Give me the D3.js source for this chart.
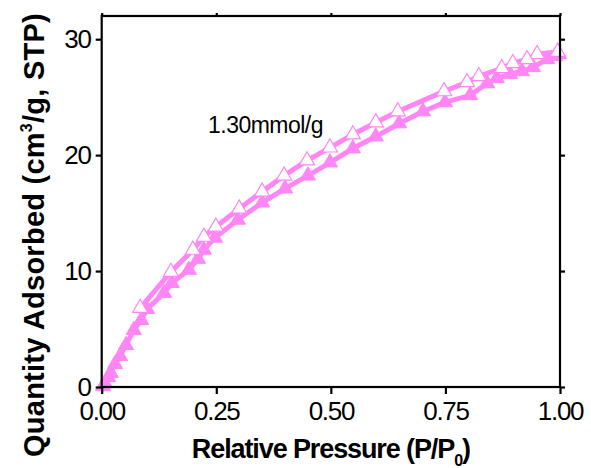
<!DOCTYPE html>
<html><head><meta charset="utf-8">
<script src="https://cdn.jsdelivr.net/npm/d3@7"></script>
<style>body{margin:0;background:#fff}svg{display:block}text{font-family:"Liberation Sans",Arial,sans-serif}</style>
</head><body><svg id="c" width="591" height="468"></svg>
<script>
const adsP = [0.003,0.007,0.014,0.020,0.029,0.040,0.053,0.070,0.086,0.099,0.136,0.153,0.190,0.210,0.223,0.247,0.297,0.350,0.400,0.450,0.498,0.548,0.598,0.649,0.701,0.749,0.804,0.841,0.862,0.891,0.917,0.941,0.972,0.989,0.998];
const adsQ = [0.06,0.32,0.84,1.19,1.97,2.66,3.61,4.91,5.77,6.72,8.11,8.97,10.10,11.05,11.83,12.87,14.42,15.90,17.11,18.23,19.36,20.57,21.60,22.73,23.77,24.55,25.16,26.19,26.63,26.98,27.23,27.58,28.27,28.53,28.70];
const desP = [0.995,0.950,0.928,0.897,0.873,0.823,0.797,0.747,0.646,0.598,0.548,0.498,0.448,0.398,0.350,0.300,0.249,0.223,0.199,0.151,0.084];
const desQ = [28.90,28.70,28.27,27.92,27.49,26.80,26.28,25.50,23.77,22.82,21.78,20.65,19.53,18.23,16.85,15.38,13.82,12.95,11.83,9.92,6.81];
const xTicks = [0, 0.25, 0.5, 0.75, 1.0];
const yTicks = [0, 10, 20, 30];
const label = "1.30mmol/g";

const svg = d3.select("#c");
const L = 101.7, R = 560, T = 16, B = 387;
const x = d3.scaleLinear().domain([0, 1]).range([L, R]);
const y = d3.scaleLinear().domain([0, 32]).range([B, T]);
const pink = "#ff86f4";

function fitWidth(sel, target) {
  const n = sel.text().length;
  const w = sel.node().getBBox().width;
  sel.attr("letter-spacing", (target - w) / n);
}

// curves
const ads = adsP.map((p, i) => [p, adsQ[i]]);
const des = desP.map((p, i) => [p, desQ[i]]);
const line = d3.line().x(d => x(d[0])).y(d => y(d[1]));
svg.append("path").datum(ads).attr("d", line).attr("fill", "none").attr("stroke", pink).attr("stroke-width", 5);
svg.append("path").datum(des).attr("d", line).attr("fill", "none").attr("stroke", pink).attr("stroke-width", 5);

const tri = d3.symbol().type(d3.symbolTriangle).size(100);
svg.append("g").selectAll("path").data(ads).join("path")
  .attr("transform", d => `translate(${x(d[0])},${y(d[1])})`)
  .attr("d", tri).attr("fill", pink).attr("stroke", pink).attr("stroke-width", 1);
svg.append("g").selectAll("path").data(des).join("path")
  .attr("transform", d => `translate(${x(d[0])},${y(d[1])})`)
  .attr("d", tri).attr("fill", "#fff").attr("stroke", pink).attr("stroke-width", 1.2);

// frame
svg.append("rect").attr("x", L).attr("y", T).attr("width", R - L).attr("height", B - T)
  .attr("fill", "none").attr("stroke", "#000").attr("stroke-width", 2.2);

const gx = svg.append("g").attr("transform", `translate(0,${B})`)
  .call(d3.axisBottom(x).tickValues(xTicks).tickSize(7).tickPadding(8).tickFormat(d3.format(".2f")));
const gy = svg.append("g").attr("transform", `translate(${L},0)`)
  .call(d3.axisLeft(y).tickValues(yTicks).tickSize(6).tickPadding(5).tickFormat(d3.format("d")));
const gt = svg.append("g").attr("transform", `translate(0,${T})`)
  .call(d3.axisTop(x).tickValues(xTicks).tickSize(3).tickFormat(""));
const gr = svg.append("g").attr("transform", `translate(${R},0)`)
  .call(d3.axisRight(y).tickValues(yTicks).tickSize(5).tickFormat(""));
[gx, gy, gt, gr].forEach(g => {
  g.select(".domain").remove();
  g.selectAll(".tick line").attr("stroke", "#000").attr("stroke-width", 2.2);
  g.selectAll("text").attr("fill", "#000").attr("font-size", 26)
    .attr("font-family", "'Liberation Sans', Arial, sans-serif");
});
gx.selectAll("text").attr("letter-spacing", -1.3);
gy.selectAll("text").attr("letter-spacing", -1.3);

const lt = svg.append("text").attr("x", 208).attr("y", 133).attr("font-size", 23)
  .attr("fill", "#000").text(label);
fitWidth(lt, 115);

// axis titles
const xt = svg.append("text").attr("x", (L + R) / 2).attr("y", 458).attr("text-anchor", "middle")
  .attr("font-size", 27).attr("font-weight", "bold").attr("fill", "#000");
xt.append("tspan").text("Relative Pressure (P/P");
xt.append("tspan").attr("font-size", 16).attr("dy", 8).text("0");
xt.append("tspan").attr("dy", -8).text(")");
fitWidth(xt, 278);

const yt = svg.append("text").attr("transform", `translate(44,235) rotate(-90)`)
  .attr("text-anchor", "middle").attr("font-size", 29).attr("font-weight", "bold").attr("fill", "#000");
yt.append("tspan").text("Quantity Adsorbed (cm");
yt.append("tspan").attr("font-size", 16).attr("dy", -12).text("3");
yt.append("tspan").attr("dy", 12).text("/g, STP)");
fitWidth(yt, 444);
</script></body></html>
